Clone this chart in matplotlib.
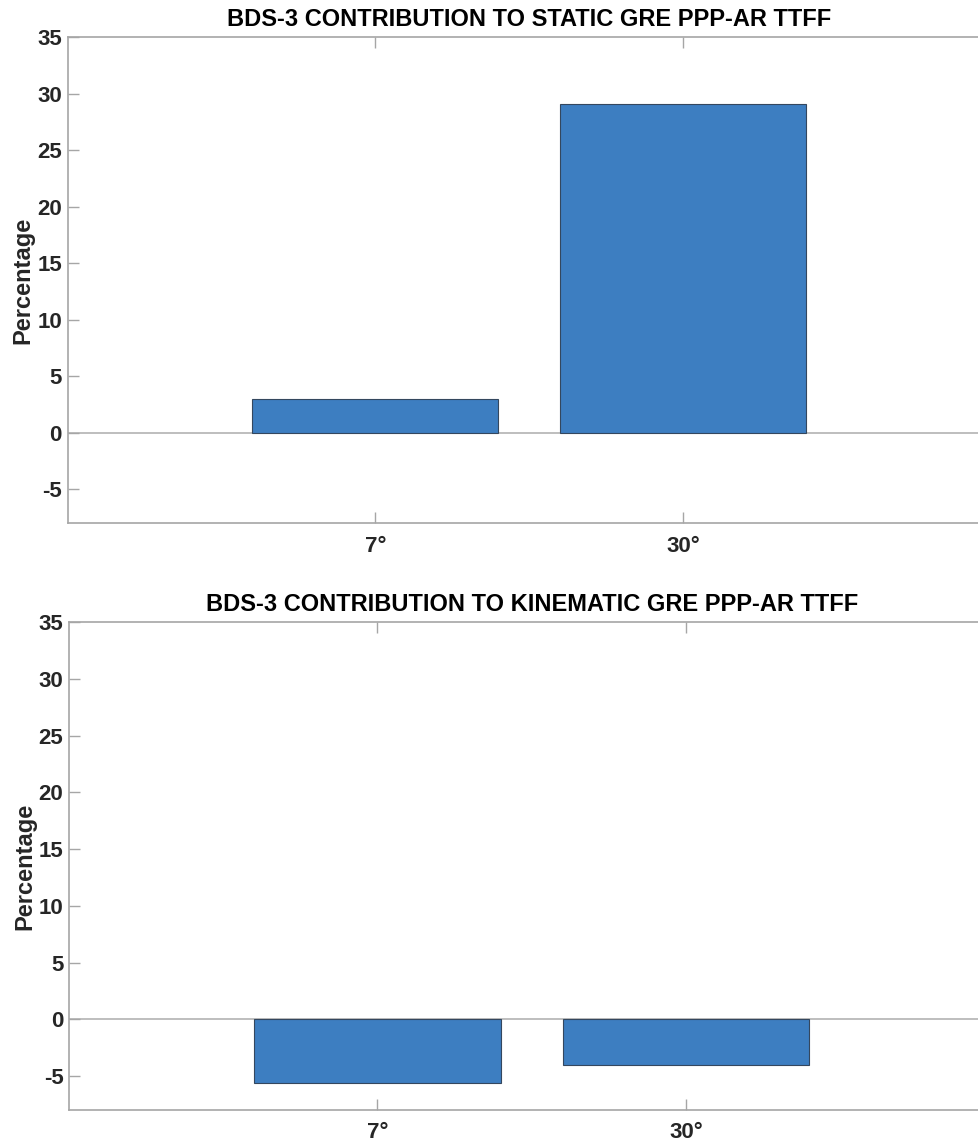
import matplotlib
matplotlib.use("Agg")
import matplotlib.pyplot as plt

# Elevation-mask categories and BDS-3 contribution (%) to TTFF
categories = ["7°", "30°"]
static_pct = [3.0, 29.1]
kinematic_pct = [-5.65, -4.03]
titles = ["BDS-3 CONTRIBUTION TO STATIC GRE PPP-AR TTFF",
          "BDS-3 CONTRIBUTION TO KINEMATIC GRE PPP-AR TTFF"]
yticks = [-5, 0, 5, 10, 15, 20, 25, 30, 35]

plt.rcParams["font.family"] = ["Liberation Sans", "DejaVu Sans"]
plt.rcParams["font.weight"] = "bold"
plt.rcParams["axes.unicode_minus"] = False

W, H = 979, 1142
fig = plt.figure(figsize=(W / 100, H / 100), dpi=100)

bar_color = "#3d7ec1"
edge_color = "#34475e"
spine_color = "#a6a6a6"
text_color = "#262626"

# axes rectangles in pixels: left, top, right, bottom
rects = [(67.5, 37, 991, 523), (69, 622.4, 994.5, 1110)]

for (l, t, r, b), vals, ttl in zip(rects, [static_pct, kinematic_pct], titles):
    ax = fig.add_axes([l / W, 1 - b / H, (r - l) / W, (b - t) / H])
    x = list(range(1, len(categories) + 1))
    ax.bar(x, vals, width=0.8, color=bar_color, edgecolor=edge_color,
           linewidth=0.8, zorder=2)
    ax.axhline(0, color="#b3b3b3", linewidth=1.2, zorder=1)
    ax.set_xlim(0, 3)
    ax.set_ylim(-8, 35)
    ax.set_xticks(x)
    ax.set_xticklabels(categories)
    ax.set_yticks(yticks)
    for s in ax.spines.values():
        s.set_color(spine_color)
        s.set_linewidth(1.2)
    ax.tick_params(axis="both", direction="in", length=8, width=1.0,
                   color=spine_color, labelcolor=text_color, labelsize=16)
    ax.tick_params(axis="x", top=True, pad=9)
    ax.tick_params(axis="y", pad=4)
    for lab in ax.get_xticklabels() + ax.get_yticklabels():
        lab.set_fontweight("bold")
    ax.set_title(ttl, fontsize=17, fontweight="bold", color="black", pad=8)
    ax.set_ylabel("Percentage", fontsize=17, fontweight="bold",
                  color=text_color, labelpad=2)

fig.savefig("out.png", dpi=100, facecolor="white")
